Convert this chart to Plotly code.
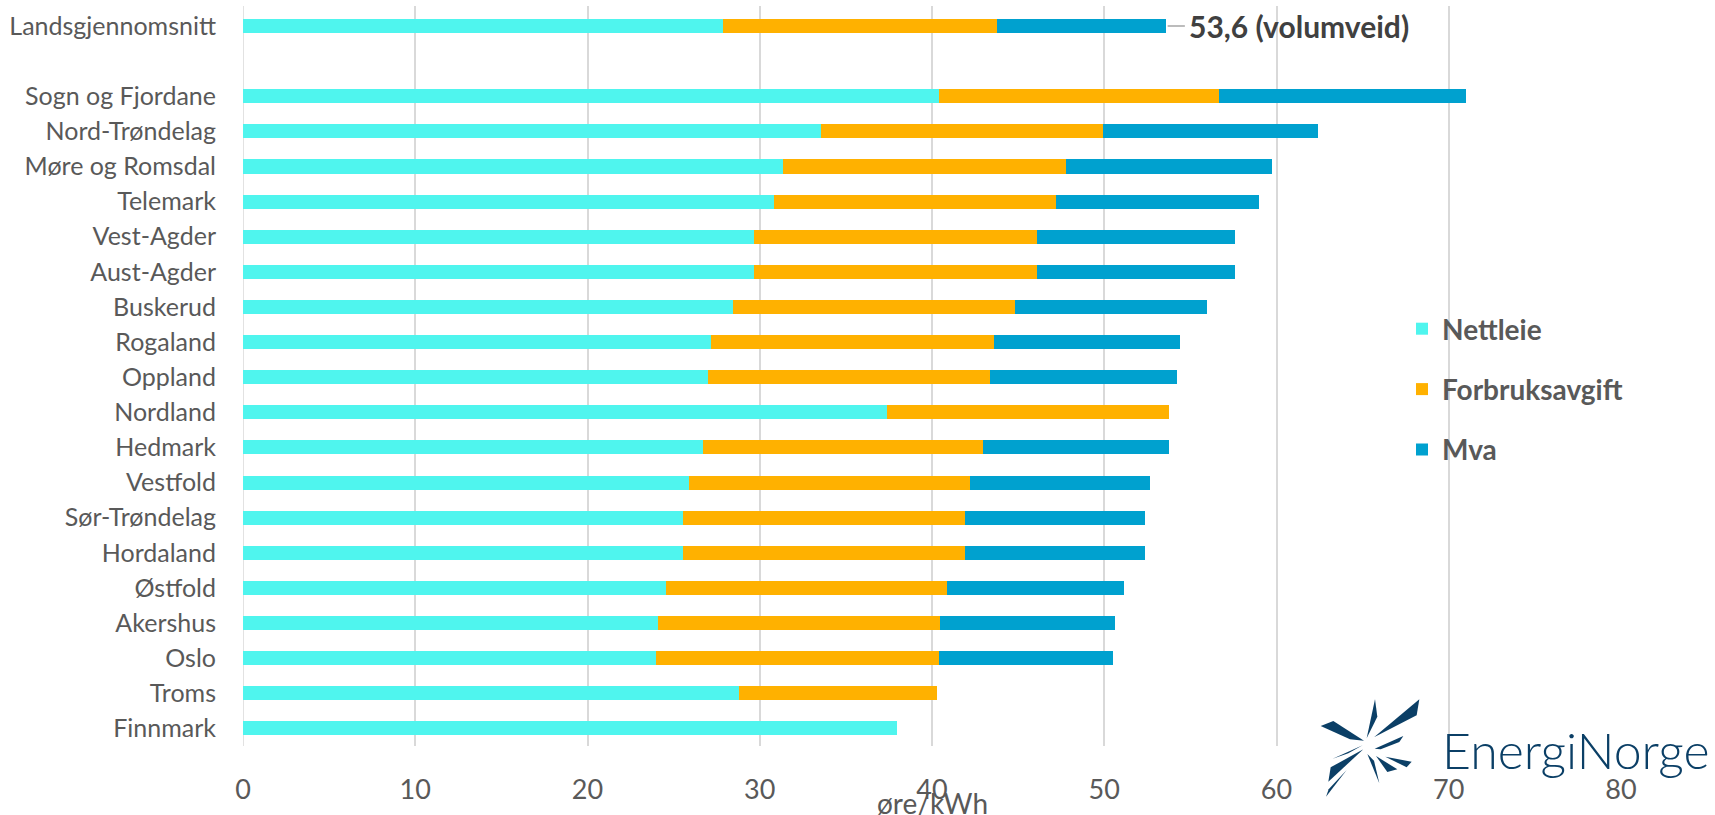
import plotly.graph_objects as go

# ---------------- data ----------------
categories = ["Landsgjennomsnitt", " ", "Sogn og Fjordane", "Nord-Trøndelag", "Møre og Romsdal",
              "Telemark", "Vest-Agder", "Aust-Agder", "Buskerud", "Rogaland", "Oppland",
              "Nordland", "Hedmark", "Vestfold", "Sør-Trøndelag", "Hordaland", "Østfold",
              "Akershus", "Oslo", "Troms", "Finnmark"]
nettleie = [27.85, None, 40.39, 33.58, 31.37, 30.85, 29.66, 29.66, 28.47, 27.18, 26.97,
            37.36, 26.68, 25.88, 25.54, 25.54, 24.53, 24.07, 23.96, 28.78, 37.98]
forbruksavgift = [15.93, None, 16.29, 16.32, 16.43, 16.35, 16.43, 16.43, 16.32, 16.42, 16.42,
                  16.42, 16.30, 16.30, 16.35, 16.35, 16.35, 16.42, 16.43, 11.50, None]
mva = [9.80, None, 14.30, 12.50, 11.92, 11.79, 11.50, 11.50, 11.19, 10.78, 10.81,
       None, 10.80, 10.49, 10.49, 10.49, 10.29, 10.11, 10.10, None, None]
x_ticks = [0, 10, 20, 30, 40, 50, 60, 70, 80]
series_names = ["Nettleie", "Forbruksavgift", "Mva"]
series_colors = ["#4FF5EE", "#FFB100", "#00A1CF"]

# ---------------- geometry helpers (figure pixels -> paper) ----------------
W, H = 1715, 815
L, R, T, B = 243, 94, 6, 69
PW, PH = W - L - R, H - T - B


def px(x):
    return (x - L) / PW


def py(y):
    return (H - B - y) / PH


fig = go.Figure()
for name, vals, col in zip(series_names, [nettleie, forbruksavgift, mva], series_colors):
    fig.add_trace(go.Bar(
        y=categories, x=vals, name=name, orientation="h",
        marker=dict(color=col, line=dict(width=0)), legendgroup=name,
    ))

avg_total = sum(v[0] for v in [nettleie, forbruksavgift, mva])
avg_label = f"{avg_total:.1f}".replace(".", ",") + " (volumveid)"

fig.add_shape(type="line", xref="x", yref="y", x0=avg_total + 0.1, x1=avg_total + 1.1,
              y0=0, y1=0, line=dict(color="#A6A6A6", width=1.5))
fig.add_annotation(x=avg_total + 1.2, y=categories[0], xref="x", yref="y", text=avg_label,
                   showarrow=False, xanchor="left", yanchor="middle",
                   font=dict(family="Lato", size=30, color="#404040", weight="bold"))

fig.add_annotation(x=0.5, xref="paper", y=py(803), yref="paper", text="øre/kWh",
                   showarrow=False, xanchor="center", yanchor="middle",
                   font=dict(family="Lato", size=28, color="#595959"))

# ---------------- EnergiNorge logo (decorative) ----------------
logo_color = "#0B3F66"
shards = [
    [(222, 262), (358, 148), (350, 196)],
    [(200, 265), (225, 148), (232, 200)],
    [(62, 228), (100, 213), (192, 272), (150, 268)],
    [(224, 296), (310, 258), (298, 276), (242, 298)],
    [(85, 395), (92, 352), (190, 298)],
    [(98, 326), (188, 286), (145, 310)],
    [(78, 440), (86, 418), (140, 360)],
    [(202, 312), (238, 400), (222, 332)],
    [(256, 320), (335, 335), (320, 352)],
    [(228, 318), (292, 358), (262, 366)],
]
for poly in shards:
    pts = [(px(1300 + dx / 3), py(650 + dy / 3)) for dx, dy in poly]
    path = "M " + " L ".join(f"{a:.5f},{b:.5f}" for a, b in pts) + " Z"
    fig.add_shape(type="path", xref="paper", yref="paper", path=path,
                  fillcolor=logo_color, line=dict(width=0), layer="above")
fig.add_annotation(x=px(1440), y=py(750), xref="paper", yref="paper", text="EnergiNorge",
                   showarrow=False, xanchor="left", yanchor="middle",
                   font=dict(family="Lato", size=50, color=logo_color, weight=300))

fig.update_layout(
    width=W, height=H,
    margin=dict(l=L, r=R, t=T, b=B),
    paper_bgcolor="white", plot_bgcolor="white",
    barmode="stack", bargap=0.6,
    font=dict(family="Lato", color="#595959"),
    showlegend=True,
    legend=dict(x=px(1402), y=py(304), xanchor="left", yanchor="top",
                traceorder="grouped", tracegroupgap=21,
                font=dict(family="Lato", size=28, color="#595959", weight="bold"),
                bgcolor="rgba(0,0,0,0)"),
    xaxis=dict(range=[0, 80], tickvals=x_ticks, showgrid=True, gridcolor="#D9D9D9",
               gridwidth=1.5, zeroline=False, showline=False, ticks="",
               tickfont=dict(family="Lato", size=27, color="#595959"),
               ticklabelstandoff=25),
    yaxis=dict(categoryorder="array", categoryarray=categories, autorange="reversed",
               showgrid=False, zeroline=False, showline=False, ticks="",
               tickfont=dict(family="Lato", size=25, color="#595959"),
               ticklabelstandoff=26),
)
fig.add_vline(x=0, line=dict(color="#D9D9D9", width=1.5), layer="below")

fig.write_html("out.html", config={"displayModeBar": False},
               post_script="document.body.style.margin='0';document.body.style.overflow='hidden';")
